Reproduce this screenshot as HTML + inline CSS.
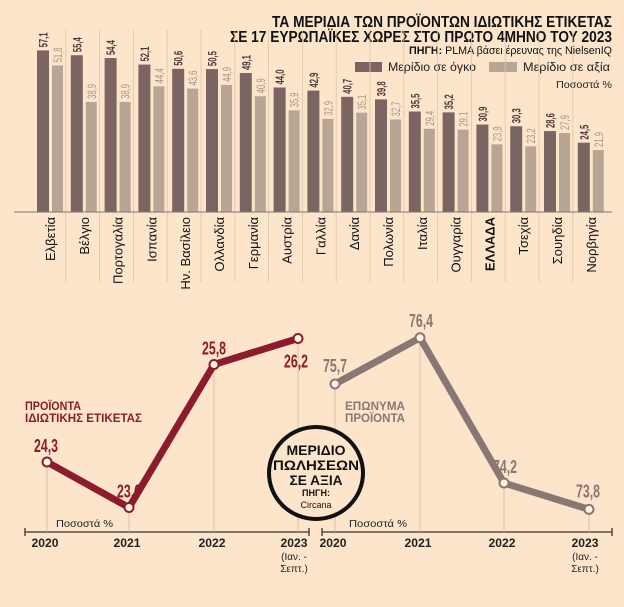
<!DOCTYPE html>
<html><head><meta charset="utf-8"><style>
html,body{margin:0;padding:0;background:#fde5cb;}
svg{display:block;font-family:"Liberation Sans",sans-serif;}
</style></head><body>
<svg width="624" height="607" viewBox="0 0 624 607">
<rect width="624" height="607" fill="#fde5cb"/>
<g font-weight="bold" fill="#111">
<text x="272" y="27" font-size="16" textLength="340" lengthAdjust="spacingAndGlyphs">ΤΑ ΜΕΡΙΔΙΑ ΤΩΝ ΠΡΟΪΟΝΤΩΝ ΙΔΙΩΤΙΚΗΣ ΕΤΙΚΕΤΑΣ</text>
<text x="230" y="42" font-size="16" textLength="382" lengthAdjust="spacingAndGlyphs">ΣΕ 17 ΕΥΡΩΠΑΪΚΕΣ ΧΩΡΕΣ ΣΤΟ ΠΡΩΤΟ 4ΜΗΝΟ ΤΟΥ 2023</text>
<text x="409" y="54" font-size="11" font-weight="normal" textLength="203" lengthAdjust="spacingAndGlyphs"><tspan font-weight="bold">ΠΗΓΗ:</tspan> PLMA βάσει έρευνας της NielsenIQ</text>
</g>
<g font-size="12" fill="#222">
<rect x="355" y="62" width="27" height="10" fill="#7b6562"/>
<text x="388" y="71" textLength="88" lengthAdjust="spacingAndGlyphs">Μερίδιο σε όγκο</text>
<rect x="489" y="62" width="28" height="10" fill="#b9a594"/>
<text x="523" y="71" textLength="87" lengthAdjust="spacingAndGlyphs">Μερίδιο σε αξία</text>
<text x="556" y="88" font-size="10" textLength="56" lengthAdjust="spacingAndGlyphs">Ποσοστά %</text>
</g>
<g id="bars"></g>
<g id="lines"></g>
<g>
<ellipse cx="316" cy="473" rx="47" ry="46" fill="#fde5cb" stroke="#111" stroke-width="4"/>
<g text-anchor="middle" font-weight="bold" fill="#111">
<text x="316" y="455" font-size="14" textLength="59" lengthAdjust="spacingAndGlyphs">ΜΕΡΙΔΙΟ</text>
<text x="316" y="470" font-size="14" textLength="86" lengthAdjust="spacingAndGlyphs">ΠΩΛΗΣΕΩΝ</text>
<text x="316" y="485" font-size="14" textLength="53" lengthAdjust="spacingAndGlyphs">ΣΕ ΑΞΙΑ</text>
<text x="316" y="496" font-size="9">ΠΗΓΗ:</text>
<text x="316" y="508" font-size="9" font-weight="normal">Circana</text>
</g></g>
<g font-weight="bold" font-size="12">
<text x="25" y="410" fill="#8c1c2c" textLength="56" lengthAdjust="spacingAndGlyphs">ΠΡΟΪΟΝΤΑ</text>
<text x="25" y="422" fill="#8c1c2c" textLength="117" lengthAdjust="spacingAndGlyphs">ΙΔΙΩΤΙΚΗΣ ΕΤΙΚΕΤΑΣ</text>
<text x="345" y="410" fill="#8a7672" textLength="60" lengthAdjust="spacingAndGlyphs">ΕΠΩΝΥΜΑ</text>
<text x="345" y="422" fill="#8a7672" textLength="60" lengthAdjust="spacingAndGlyphs">ΠΡΟΪΟΝΤΑ</text>
</g>
<g font-size="10" fill="#222">
<text x="56" y="527" textLength="57" lengthAdjust="spacingAndGlyphs">Ποσοστά %</text>
<text x="349" y="527" textLength="58" lengthAdjust="spacingAndGlyphs">Ποσοστά %</text>
</g>
</svg>
<script>
const countries=["Ελβετία","Βέλγιο","Πορτογαλία","Ισπανία","Ην. Βασίλειο","Ολλανδία","Γερμανία","Αυστρία","Γαλλία","Δανία","Πολωνία","Ιταλία","Ουγγαρία","ΕΛΛΑΔΑ","Τσεχία","Σουηδία","Νορβηγία"];
const volumeShare=[57.1,55.4,54.4,52.1,50.6,50.5,49.1,44.0,42.9,40.7,39.8,35.5,35.2,30.9,30.3,28.6,24.5];
const valueShare=[51.8,38.9,38.9,44.4,43.6,44.9,40.9,35.9,32.9,35.1,32.7,29.4,29.1,23.9,23.2,27.9,21.9];
const years=["2020","2021","2022","2023"];
const privateLabel=[24.3,23.6,25.8,26.2];
const branded=[75.7,76.4,74.2,73.8];

const NS="http://www.w3.org/2000/svg";
function mk(tag,attrs,parent,text){const e=document.createElementNS(NS,tag);for(const k in attrs)e.setAttribute(k,attrs[k]);if(text!==undefined)e.textContent=text;parent.appendChild(e);return e;}
const fmt=v=>v.toFixed(1).replace('.',',');

// bar chart
const bars=document.getElementById('bars');
const base=212, k=2.83, x0=37, step=33.8, bw=12;
const yB=v=>base-v*k;
countries.forEach((c,i)=>{
  const gx=x0+i*step;
  if(i>0){const s=mk('line',{x1:gx-5,x2:gx-5,y1:30,y2:282,stroke:'#dcc5ad','stroke-width':0.8},bars);
    }
  const r1=mk('rect',{x:gx,y:yB(volumeShare[i]),width:bw,height:volumeShare[i]*k,fill:'#7b6562'},bars);
  
  const r2=mk('rect',{x:gx+15,y:yB(valueShare[i]),width:11,height:valueShare[i]*k,fill:'#b9a594'},bars);
  
  const t1=mk('text',{transform:`translate(${gx+10.5},${yB(volumeShare[i])-3}) rotate(-90)`,'font-size':12,'font-weight':'bold',fill:'#4a3a38',textLength:15,lengthAdjust:'spacingAndGlyphs'},bars,fmt(volumeShare[i]));
  
  const t2=mk('text',{transform:`translate(${gx+25},${yB(valueShare[i])-3}) rotate(-90)`,'font-size':12,fill:'#a89484',textLength:15,lengthAdjust:'spacingAndGlyphs'},bars,fmt(valueShare[i]));
  
  const cl=mk('text',{transform:`translate(${gx+18},${base+5}) rotate(-90)`,'font-size':13,'text-anchor':'end',fill:'#111','font-weight':c==='ΕΛΛΑΔΑ'?'bold':'normal'},bars,c);
  
});
const bl=mk('line',{x1:14,x2:612,y1:base,y2:base,stroke:'#777','stroke-width':1},bars);


// line charts
const lines=document.getElementById('lines');
function lineChart(vals,xs,ref,refY,scale,color,axisX1,axisX2,labelOffsets,name){
  const g=mk('g',{},lines);
  
  const y=v=>refY-(v-ref)*scale;
  const ax=mk('line',{x1:axisX1,x2:axisX2,y1:532,y2:532,stroke:'#333','stroke-width':1.3},g);
  
  [axisX1,axisX2].forEach(x=>mk('line',{x1:x,x2:x,y1:528,y2:536,stroke:'#333','stroke-width':1.3},g));
  vals.forEach((v,i)=>{
    const gl=mk('line',{x1:xs[i],x2:xs[i],y1:y(v),y2:532,stroke:'#cdb8a2','stroke-width':0.8},g);
    
    const yl=mk('text',{x:i===3?xs[i]-4:xs[i]-2,y:547,'font-size':12,'font-weight':'bold','text-anchor':'middle',fill:'#222',textLength:27,lengthAdjust:'spacingAndGlyphs'},g,years[i]);
    
  });
  const l2=mk('text',{x:xs[3]-4,y:560,'font-size':10,'text-anchor':'middle',fill:'#222'},g,'(Ιαν. -');
  
  const l3=mk('text',{x:xs[3]-4,y:572,'font-size':10,'text-anchor':'middle',fill:'#222'},g,'Σεπτ.)');
  
  const pts=vals.map((v,i)=>xs[i]+','+y(v)).join(' ');
  const pl=mk('polyline',{points:pts,fill:'none',stroke:color,'stroke-width':7,'stroke-linejoin':'round','stroke-linecap':'round'},g);
  
  vals.forEach((v,i)=>{
    const c=mk('circle',{cx:xs[i],cy:y(v),r:4.5,fill:'#fdf2e6',stroke:color,'stroke-width':2},g);
    
    const t=mk('text',{x:xs[i]+labelOffsets[i][0],y:y(v)+labelOffsets[i][1],'font-size':18,'font-weight':'bold','text-anchor':'middle',fill:color,textLength:24,lengthAdjust:'spacingAndGlyphs'},g,fmt(v));
    
  });
}
lineChart(privateLabel,[47,129,214,298],24.3,462,65,'#8c1c2c',25,309,[[-1,-10],[0,-10],[0,-10],[-2,29]],'private-label-chart');
lineChart(branded,[335,420,504,589],75.7,384,66,'#8a7672',322,612,[[0,-12],[1,-11],[1,-10],[-1,-12]],'branded-chart');
</script>
</body></html>
